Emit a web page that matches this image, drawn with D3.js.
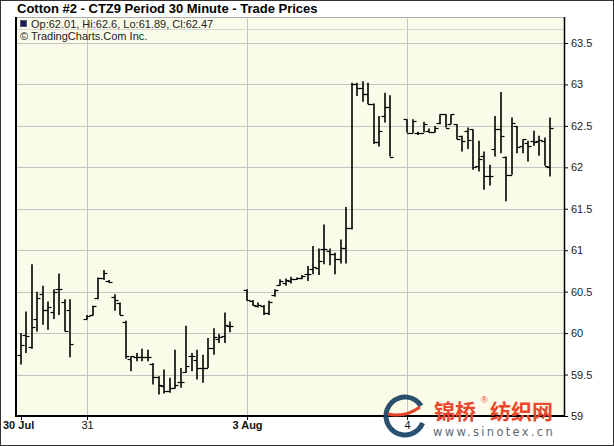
<!DOCTYPE html>
<html><head><meta charset="utf-8">
<script src="https://cdn.jsdelivr.net/npm/d3@7"></script>
<style>body{margin:0;background:#fff}svg{display:block}</style>
</head><body>
<script>
// ---------- data ----------
const title = "Cotton #2 - CTZ9 Period 30 Minute - Trade Prices";
const legendText = "Op:62.01, Hi:62.6, Lo:61.89, Cl:62.47";
const creditText = "\u00A9 TradingCharts.Com Inc.";
const sessions = ["30 Jul", "31", "3 Aug", "4"];
const sessionBold = [true, false, true, false];
const slotsPerSession = 29;
const sessionFirstSlot = [17, 0, 0, 0];
const yTicks = [59, 59.5, 60, 60.5, 61, 61.5, 62, 62.5, 63, 63.5];

const opens = [
  [59.73,59.98,59.83,60.17,60.47,60.28,60.25,60.53,60.37,60.28],
  [60.17,60.22,60.42,60.66,60.63,60.43,60.36,60.14,59.69,59.71,59.71,59.71,59.63,59.47,59.36,59.30,59.34,59.41,59.53,59.72,59.68,59.58,59.58,59.82,59.93,59.97,60.08],
  [60.52,60.39,60.33,60.33,60.24,60.46,60.58,60.60,60.63,60.65,60.66,60.71,60.77,60.78,61.01,60.99,60.95,60.90,61.03,61.27,63.00,62.96,62.88,62.76,62.30,62.62,62.73],
  [62.58,62.42,62.41,62.42,62.44,62.43,62.54,62.64,62.52,62.52,62.38,62.44,62.46,62.02,62.14,61.90,62.22,62.46,62.13,61.91,62.50,62.26,62.29,62.32,62.32,62.32,62.01]
];
const highs = [
  [60.00,60.26,60.83,60.50,60.57,60.38,60.53,60.72,60.41,60.41],
  [60.22,60.33,60.67,60.76,60.64,60.47,60.37,60.15,59.72,59.76,59.81,59.80,59.64,59.48,59.56,59.46,59.80,59.58,60.09,59.76,59.80,59.74,59.94,60.06,59.99,60.25,60.14],
  [60.53,60.40,60.37,60.34,60.39,60.53,60.65,60.66,60.68,60.67,60.70,60.81,61.05,61.02,61.31,61.02,60.97,61.13,61.52,63.02,63.02,63.04,63.02,62.77,62.62,62.90,62.87],
  [62.58,62.58,62.43,62.55,62.47,62.50,62.64,62.64,62.64,62.52,62.38,62.48,62.46,62.32,62.19,62.03,62.62,62.91,62.13,62.60,62.50,62.34,62.32,62.44,62.38,62.36,62.60]
];
const lows = [
  [59.62,59.76,59.81,60.02,60.10,60.04,60.17,60.22,60.02,59.71],
  [60.16,60.21,60.41,60.64,60.61,60.27,60.22,59.69,59.54,59.66,59.66,59.66,59.38,59.26,59.27,59.28,59.33,59.34,59.52,59.54,59.44,59.40,59.58,59.74,59.88,59.88,60.01],
  [60.39,60.33,60.31,60.22,60.22,60.44,60.57,60.57,60.60,60.64,60.65,60.63,60.71,60.70,60.83,60.82,60.71,60.84,60.84,61.25,62.86,62.79,62.76,62.28,62.25,62.54,62.13],
  [62.42,62.41,62.39,62.42,62.42,62.42,62.52,62.48,62.52,62.34,62.19,62.22,61.97,61.95,61.73,61.78,62.13,62.17,61.59,61.91,62.17,62.17,62.07,62.26,62.14,62.02,61.89]
];
const closes = [
  [59.86,59.97,60.07,60.42,60.28,60.32,60.49,60.53,60.02,59.87],
  [60.21,60.33,60.66,60.73,60.62,60.40,60.22,59.72,59.72,59.71,59.71,59.71,59.47,59.37,59.30,59.34,59.38,59.41,59.60,59.72,59.58,59.58,59.82,59.95,59.95,60.10,60.08],
  [60.40,60.34,60.34,60.24,60.38,60.52,60.63,60.64,60.65,60.66,60.69,60.71,60.80,60.87,61.01,60.95,60.90,61.03,61.27,63.00,62.96,62.88,62.77,62.30,62.44,62.73,62.13],
  [62.42,62.56,62.42,62.52,62.43,62.47,62.64,62.48,62.64,62.34,62.32,62.33,62.01,62.10,61.90,61.90,62.46,62.38,61.91,62.54,62.24,62.34,62.26,62.30,62.33,62.02,62.47]
];

// ---------- layout ----------
const W = 614, H = 446;
const plot = {left: 16, right: 564, top: 17, bottom: 416};
const svg = d3.select("body").append("svg").attr("width", W).attr("height", H)
  .style("font-family", "'Liberation Sans', Arial, sans-serif");

svg.append("rect").attr("x", 0.5).attr("y", 0.5).attr("width", W - 1).attr("height", H - 1)
  .attr("fill", "#fff").attr("stroke", "#333");

// x scale: slot index (session * slotsPerSession + slot)
const idx = (s, k) => s * slotsPerSession + k;
const x = d3.scaleLinear()
  .domain([idx(1, 0) - (87 - plot.left) * slotsPerSession * 2 / 320, idx(1, 0) + (plot.right - 87) * slotsPerSession * 2 / 320])
  .range([plot.left, plot.right]);
const y = d3.scaleLinear().domain([59, 63.5]).range([plot.bottom, 43]);

// plot background
svg.append("rect").attr("x", plot.left).attr("y", plot.top)
  .attr("width", plot.right - plot.left).attr("height", plot.bottom - plot.top)
  .attr("fill", "#fbfbe9");

// grid
const grid = svg.append("g").attr("stroke", "#c4c4c4").attr("shape-rendering", "crispEdges");
yTicks.filter(v => v > 59).forEach(v => {
  grid.append("line").attr("x1", plot.left).attr("x2", plot.right).attr("y1", Math.round(y(v)) + 0.5).attr("y2", Math.round(y(v)) + 0.5);
});
const sessionTickX = sessions.map((s, i) => x(idx(i, sessionFirstSlot[i])));
sessionTickX.slice(1).forEach(px => {
  grid.append("line").attr("y1", plot.top).attr("y2", plot.bottom).attr("x1", Math.round(px) + 0.5).attr("x2", Math.round(px) + 0.5);
});
// legend row separators
grid.append("line").attr("x1", plot.left).attr("x2", plot.right).attr("y1", 29.5).attr("y2", 29.5).attr("stroke", "#d6d6d6");
grid.append("line").attr("x1", plot.left).attr("x2", plot.right).attr("y1", plot.top + 0.5).attr("y2", plot.top + 0.5).attr("stroke", "#b0b0b0");

// OHLC bars
const bars = svg.append("g").attr("stroke", "#000");
sessions.forEach((s, si) => {
  opens[si].forEach((o, j) => {
    const px = Math.round(x(idx(si, sessionFirstSlot[si] + j)));
    const hy = y(highs[si][j]), ly = y(lows[si][j]);
    const oy = Math.round(y(o)) + 0.5, cy = Math.round(y(closes[si][j])) + 0.5;
    bars.append("line").attr("x1", px).attr("x2", px).attr("y1", hy).attr("y2", Math.max(ly, hy + 1)).attr("stroke-width", 1.6);
    bars.append("line").attr("x1", px - 3.5).attr("x2", px).attr("y1", oy).attr("y2", oy).attr("stroke-width", 1.2);
    bars.append("line").attr("x1", px).attr("x2", px + 3.5).attr("y1", cy).attr("y2", cy).attr("stroke-width", 1.2);
  });
});

// axes frame
svg.append("line").attr("x1", plot.left).attr("x2", plot.left).attr("y1", plot.top).attr("y2", plot.bottom + 1).attr("stroke", "#000").attr("stroke-width", 2);
svg.append("line").attr("x1", plot.left - 1).attr("x2", plot.right + 1).attr("y1", plot.bottom).attr("y2", plot.bottom).attr("stroke", "#000").attr("stroke-width", 2);
svg.append("line").attr("x1", plot.right + 0.5).attr("x2", plot.right + 0.5).attr("y1", plot.top).attr("y2", plot.bottom).attr("stroke", "#000").attr("stroke-width", 1.5);

// right y axis
const yAxis = d3.axisRight(y).tickValues(yTicks).tickSize(4).tickPadding(3).tickFormat(d3.format("~g"));
const gy = svg.append("g").attr("transform", `translate(${plot.right},0)`).call(yAxis);
gy.select(".domain").remove();
gy.selectAll("text").attr("font-size", 11).attr("fill", "#222").attr("font-family", "'Liberation Sans', Arial, sans-serif");
gy.selectAll("line").attr("stroke", "#000");

// x axis labels
const gx = svg.append("g");
sessions.forEach((s, i) => {
  const px = Math.round(sessionTickX[i]) + 0.5;
  gx.append("line").attr("x1", px).attr("x2", px).attr("y1", plot.bottom).attr("y2", plot.bottom + 4).attr("stroke", "#000");
  gx.append("text").attr("x", i === 0 ? 3 : px).attr("y", 429)
    .attr("text-anchor", i === 0 ? "start" : "middle")
    .attr("font-size", 11).attr("font-weight", sessionBold[i] ? "bold" : "normal").attr("fill", "#111")
    .text(s);
});

// title & legend
svg.append("text").attr("x", 17).attr("y", 12.5).attr("font-size", 13).attr("font-weight", "bold").attr("fill", "#000").text(title);
svg.append("rect").attr("x", 20.5).attr("y", 20.5).attr("width", 6).attr("height", 6).attr("fill", "#1b1b55").attr("stroke", "#55557a");
svg.append("text").attr("x", 31).attr("y", 28).attr("font-size", 11).attr("fill", "#222").text(legendText);
svg.append("text").attr("x", 20).attr("y", 39.5).attr("font-size", 11).attr("fill", "#222").text(creditText);

// watermark
const wm = svg.append("g");
const cx = 405, cyy = 416, r = 19;
const arc = d3.arc().innerRadius(r - 2.5).outerRadius(r + 2.5).startAngle(Math.PI * 0.62).endAngle(Math.PI * 2.32);
wm.append("path").attr("d", arc()).attr("transform", `translate(${cx},${cyy})`).attr("fill", "#1f4767").attr("opacity", 0.95);
wm.append("path").attr("d", `M${cx - 17},${cyy - 2} Q${cx},${cyy + 2} ${cx + 15},${cyy - 9}`).attr("fill", "none").attr("stroke", "#e2452c").attr("stroke-width", 3);
wm.append("text").attr("x", 434).attr("y", 419).attr("font-size", 21).attr("font-weight", "bold")
  .attr("font-family", "'Noto Sans CJK SC', sans-serif").attr("fill", "#e9482c").text("锦桥");
wm.append("text").attr("x", 481).attr("y", 403).attr("font-size", 9).attr("fill", "#e9482c").text("®");
wm.append("text").attr("x", 490).attr("y", 419).attr("font-size", 21).attr("font-weight", "bold")
  .attr("font-family", "'Noto Sans CJK SC', sans-serif").attr("fill", "#e9482c").text("纺织网");
wm.append("text").attr("x", 433).attr("y", 436).attr("font-size", 11.5).attr("letter-spacing", 2.3)
  .attr("font-family", "'DejaVu Sans', sans-serif").attr("fill", "#5d6b78").text("www.sinotex.cn");
</script>
</body></html>
